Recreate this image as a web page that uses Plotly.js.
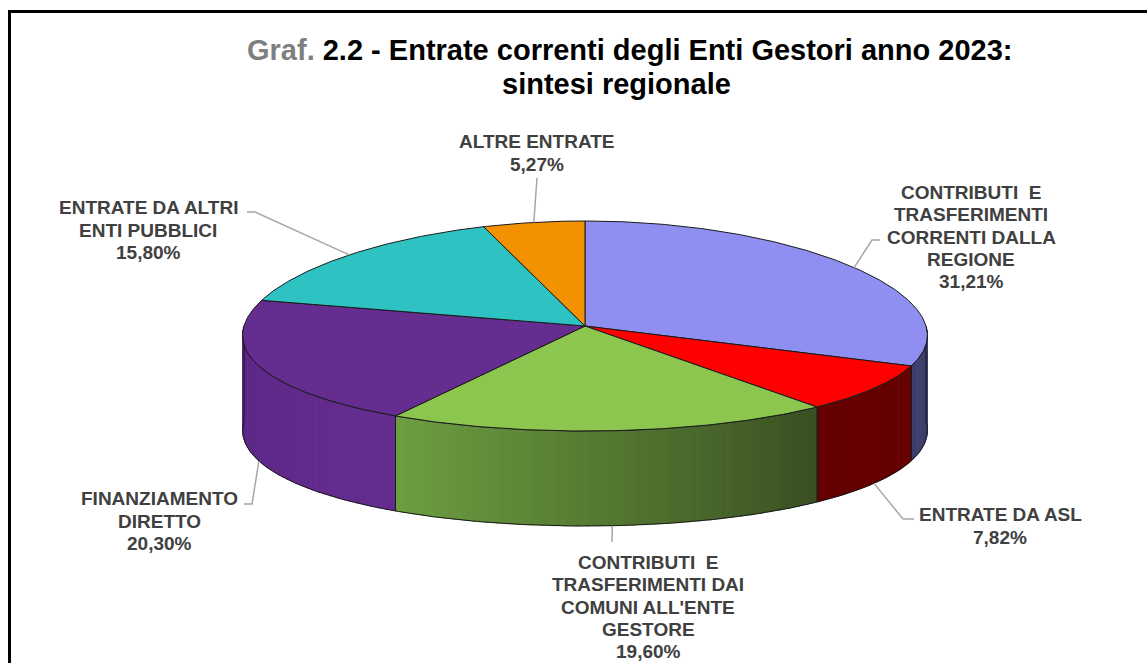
<!DOCTYPE html>
<html><head><meta charset="utf-8">
<script src="https://cdn.plot.ly/plotly-3.0.1.min.js"></script>
<style>html,body{margin:0;padding:0;background:#fff}#chart{width:1147px;height:663px}</style>
</head><body><div id="chart"></div>
<script>
// ---- data ----
const categories = [
  'CONTRIBUTI  E TRASFERIMENTI CORRENTI DALLA REGIONE',
  'ENTRATE DA ASL',
  "CONTRIBUTI  E TRASFERIMENTI DAI COMUNI ALL'ENTE GESTORE",
  'FINANZIAMENTO DIRETTO',
  'ENTRATE DA ALTRI ENTI PUBBLICI',
  'ALTRE ENTRATE'
];
const labelLines = [
  ['CONTRIBUTI  E', 'TRASFERIMENTI', 'CORRENTI DALLA', 'REGIONE'],
  ['ENTRATE DA ASL'],
  ['CONTRIBUTI  E', 'TRASFERIMENTI DAI', "COMUNI ALL'ENTE", 'GESTORE'],
  ['FINANZIAMENTO', 'DIRETTO'],
  ['ENTRATE DA ALTRI', 'ENTI PUBBLICI'],
  ['ALTRE ENTRATE']
];
const values = [31.21, 7.82, 19.60, 20.30, 15.80, 5.27];
const topColors = ['#8F8FF2', '#FF0000', '#8CC64F', '#662D91', '#2FC2C2', '#F39200'];
// side shading: A = colour at the slice's start angle, B = at its end angle
const sideColorsA = ['#3E3E6E', '#650000', '#394F22', '#652D90', '#1F8080', '#A06000'];
const sideColorsB = ['#3E3E6E', '#650000', '#6E9F41', '#5A2685', '#1F8080', '#A06000'];
const titleLine1 = '<span style="color:#7F7F7F">Graf.</span> 2.2 - Entrate correnti degli Enti Gestori anno 2023:';
const titleLine2 = 'sintesi regionale';

// ---- layout of the pie (pixel-based axes) ----
const cx = 585, cy = 326, rx = 341, ry = 105, depth = 95, persp = 0.09;
// label block centres and leader-line elbows
const labelPos = [[971, 237], [1000, 526], [648, 607], [159, 521], [148, 230], [537, 153]];
const elbows = [
  [[872, 240], [880, 240]],
  [[903, 519], [914, 519]],
  [[612, 542]],
  [[252, 504], [244, 504]],
  [[255, 212], [247, 212]],
  [[537, 178]]
];
const lineStep = 22.4;

function pt(a, dz) {
  return [cx + rx * Math.sin(a) * (1 - persp * Math.cos(a)), cy - ry * Math.cos(a) + (dz || 0)];
}
function arc(a0, a1, dz) {
  const n = Math.max(2, Math.ceil(Math.abs(a1 - a0) / 0.01));
  const out = [];
  for (let i = 0; i <= n; i++) out.push(pt(a0 + (a1 - a0) * i / n, dz));
  return out;
}
function hex2rgb(h) { return [1, 3, 5].map(i => parseInt(h.substr(i, 2), 16)); }
function mix(c1, c2, t) {
  const a = hex2rgb(c1), b = hex2rgb(c2);
  return 'rgb(' + a.map((v, i) => Math.round(v + (b[i] - v) * t)).join(',') + ')';
}
function poly(pts, fill, lineColor, lineWidth) {
  return {
    type: 'scatter', mode: 'lines', x: pts.map(p => p[0]), y: pts.map(p => p[1]),
    fill: fill ? 'toself' : 'none', fillcolor: fill || undefined,
    line: {color: lineColor, width: lineWidth}, hoverinfo: 'skip', showlegend: false
  };
}

const total = values.reduce((s, v) => s + v, 0);
const angles = [0];
values.forEach(v => angles.push(angles[angles.length - 1] + v / total * 2 * Math.PI));

const traces = [];
const H0 = Math.PI / 2, H1 = 3 * Math.PI / 2;
// sides (front half only)
values.forEach((v, i) => {
  const s0 = Math.max(angles[i], H0), s1 = Math.min(angles[i + 1], H1);
  if (s1 <= s0) return;
  const nStrips = 40;
  for (let k = 0; k < nStrips; k++) {
    const b0 = s0 + (s1 - s0) * k / nStrips, b1 = s0 + (s1 - s0) * Math.min(1, (k + 1.3) / nStrips);
    const c = mix(sideColorsA[i], sideColorsB[i], (k + 0.5) / nStrips);
    const pts = arc(b0, b1, 0).concat(arc(b1, b0, depth));
    pts.push(pts[0]);
    traces.push(poly(pts, c, c, 0.5));
  }
  const pts = arc(s0, s1, 0).concat(arc(s1, s0, depth));
  pts.push(pts[0]);
  traces.push(poly(pts, null, '#1A1A1A', 1));
});
// top faces
values.forEach((v, i) => {
  const pts = [[cx, cy]].concat(arc(angles[i], angles[i + 1], 0));
  pts.push([cx, cy]);
  traces.push(poly(pts, topColors[i], '#1A1A1A', 1));
});
// leader lines: anchored on the rim at each slice's mid angle
values.forEach((v, i) => {
  const m = (angles[i] + angles[i + 1]) / 2;
  const front = m > H0 && m < H1;
  const a = pt(m, front ? depth : 0);
  traces.push(poly([a].concat(elbows[i]), null, '#A6A6A6', 1.5));
});

const fmt = v => v.toFixed(2).replace('.', ',') + '%';
const annotations = [];
const labFont = {family: 'Liberation Sans, Arial, sans-serif', size: 19, color: '#404040'};
values.forEach((v, i) => {
  const lines = labelLines[i].concat([fmt(v)]);
  const n = lines.length;
  lines.forEach((t, k) => {
    annotations.push({
      x: labelPos[i][0], y: labelPos[i][1] + (k - (n - 1) / 2) * lineStep,
      xref: 'x', yref: 'y', text: '<b>' + t + '</b>', showarrow: false,
      xanchor: 'center', yanchor: 'middle', font: labFont
    });
  });
});
const tFont = {family: 'Liberation Sans, Arial, sans-serif', size: 29, color: '#000000'};
annotations.push({x: 629, y: 50, xref: 'x', yref: 'y', text: '<b>' + titleLine1 + '</b>', showarrow: false, xanchor: 'center', yanchor: 'middle', font: tFont});
annotations.push({x: 616, y: 84, xref: 'x', yref: 'y', text: '<b>' + titleLine2 + '</b>', showarrow: false, xanchor: 'center', yanchor: 'middle', font: tFont});

const layout = {
  width: 1147, height: 663,
  margin: {l: 0, r: 0, t: 0, b: 0, pad: 0},
  paper_bgcolor: '#FFFFFF', plot_bgcolor: '#FFFFFF',
  xaxis: {range: [0, 1147], visible: false, fixedrange: true},
  yaxis: {range: [663, 0], visible: false, fixedrange: true},
  showlegend: false,
  annotations: annotations,
  shapes: [{type: 'path', xref: 'x', yref: 'y', path: 'M 9.5 670 L 9.5 11.5 L 1150 11.5', line: {color: '#000000', width: 3}}]
};
Plotly.newPlot('chart', traces, layout, {displayModeBar: false, staticPlot: true});
</script>
</body></html>
